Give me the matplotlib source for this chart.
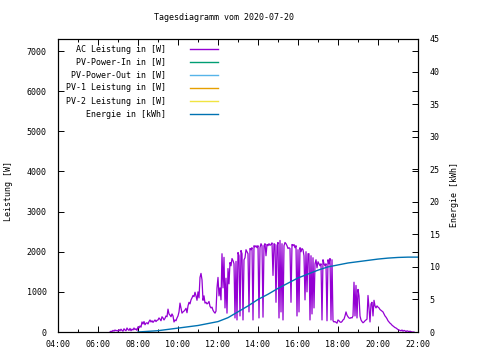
import matplotlib
matplotlib.use("Agg")
import matplotlib.pyplot as plt
from matplotlib.lines import Line2D
from matplotlib.ticker import MultipleLocator, FuncFormatter

# ---------------------------------------------------------------
# Daten: AC-Leistung [W] in 3-Minuten-Schritten, je Stunde ein Block
# ---------------------------------------------------------------
ac_0636 = [0, 20, 10, 40, 20, 50, 30, 40]
ac_07 = [20, 60, 30, 70, 40, 20, 80, 50, 30, 100, 60, 40, 90, 30, 70, 50, 100, 60, 80, 40]
ac_08 = [130, 100, 150, 120, 250, 200, 260, 180, 220, 230, 200, 260, 300, 250, 280, 240, 270, 300, 260, 290]
ac_09 = [300, 350, 320, 280, 380, 350, 300, 340, 400, 380, 570, 450, 420, 380, 450, 400, 250, 300, 280, 350]
ac_10 = [400, 500, 720, 600, 470, 500, 520, 550, 590, 480, 650, 740, 700, 800, 850, 910, 880, 990, 900, 790]
ac_11 = [1000, 850, 1360, 1460, 1300, 790, 900, 720, 740, 700, 720, 760, 640, 600, 620, 540, 500, 470, 520, 1100]
ac_12 = [1360, 900, 1100, 800, 1950, 1100, 1860, 600, 1340, 470, 1580, 1200, 1730, 1650, 1830, 1780, 1700, 350, 1760, 300]
ac_13 = [1980, 1900, 400, 2030, 1950, 300, 1800, 1850, 2050, 2000, 1950, 500, 2080, 2050, 2100, 300, 2150, 2120, 2150, 2100]
ac_14 = [2150, 350, 2100, 2200, 2150, 370, 2150, 2200, 1900, 2180, 2150, 2200, 2160, 2180, 2220, 1410, 2200, 2180, 740, 2150]
ac_15 = [2230, 350, 2280, 500, 2200, 300, 2150, 2230, 2200, 2150, 2080, 2100, 2080, 740, 2180, 2150, 2180, 2100, 2150, 400]
ac_16 = [2050, 500, 2100, 2000, 2080, 2050, 1900, 800, 2000, 1000, 1950, 1950, 300, 1900, 450, 1850, 600, 1700, 1800, 1600]
ac_17 = [1750, 1700, 1650, 1700, 300, 1800, 1700, 1650, 1700, 280, 1800, 1700, 1830, 300, 1800, 280, 250, 260, 240, 220]
ac_18 = [300, 280, 250, 240, 260, 300, 320, 400, 500, 420, 380, 350, 340, 360, 350, 400, 1240, 400, 1160, 350]
ac_19 = [1060, 900, 400, 300, 260, 230, 250, 280, 300, 320, 910, 600, 250, 700, 740, 400, 790, 650, 600, 650]
ac_20 = [620, 600, 560, 540, 520, 500, 450, 400, 370, 330, 280, 250, 220, 200, 170, 150, 130, 110, 100, 80]
ac_21 = [60, 50, 40, 30, 50, 20, 40, 30, 10, 30, 20, 10, 20, 10, 0, 0, 0]

ac_blocks = [(6.6, ac_0636), (7, ac_07), (8, ac_08), (9, ac_09), (10, ac_10),
             (11, ac_11), (12, ac_12), (13, ac_13), (14, ac_14), (15, ac_15),
             (16, ac_16), (17, ac_17), (18, ac_18), (19, ac_19), (20, ac_20),
             (21, ac_21)]

# Energie [kWh], kumuliert
energy_hours = [8, 8.5, 9, 9.5, 10, 10.5, 11, 11.5, 12, 12.5, 13, 13.5, 14, 14.5,
                15, 15.5, 16, 16.5, 17, 17.5, 18, 18.5, 19, 19.5, 20, 20.5, 21, 21.5, 22]
energy_kwh = [0, 0.1, 0.2, 0.4, 0.6, 0.8, 1.0, 1.3, 1.6, 2.2, 3.1, 4.0, 5.0, 5.8,
              6.7, 7.5, 8.3, 8.9, 9.5, 10.0, 10.3, 10.6, 10.8, 11.0, 11.2, 11.35, 11.45, 11.5, 11.5]

legend_labels = ["AC Leistung in [W]", "PV-Power-In in [W]", "PV-Power-Out in [W]",
                 "PV-1 Leistung in [W]", "PV-2 Leistung in [W]", "Energie in [kWh]"]
legend_colors = ["#9400D3", "#009E73", "#56B4E9", "#E69F00", "#F0E442", "#0072B2"]

ac_t, ac_w = [], []
for start, vals in ac_blocks:
    for i, v in enumerate(vals):
        ac_t.append(start + 0.05 * i)
        ac_w.append(v)

# ---------------------------------------------------------------
# Plot im gnuplot-Stil
# ---------------------------------------------------------------
plt.rcParams["font.family"] = ["DejaVu Sans Mono"]
plt.rcParams["font.size"] = 6

fig = plt.figure(figsize=(4.8, 3.6), dpi=100)
ax = fig.add_axes([58 / 480, 1 - 332 / 360, 360 / 480, 293 / 360])
ax2 = ax.twinx()

ax.plot(ac_t, ac_w, color=legend_colors[0], lw=0.9)
ax2.plot(energy_hours, energy_kwh, color=legend_colors[5], lw=1.0)

ax.set_xlim(4, 22)
ax.set_ylim(0, 7300)
ax2.set_ylim(0, 45)

ax.xaxis.set_major_locator(MultipleLocator(2))
ax.xaxis.set_minor_locator(MultipleLocator(1))
ax.xaxis.set_major_formatter(FuncFormatter(lambda v, p: "%02d:00" % int(round(v))))
ax.yaxis.set_major_locator(MultipleLocator(1000))
ax2.yaxis.set_major_locator(MultipleLocator(5))

ax.tick_params(axis="both", which="both", direction="in", top=True, right=True, width=0.7)
ax.tick_params(axis="x", which="major", length=4, pad=5.5)
ax.tick_params(axis="x", which="minor", length=2)
ax.tick_params(axis="y", which="major", length=4, pad=8)
ax2.tick_params(axis="y", direction="in", length=4, width=0.7, pad=8.5)

for a in (ax, ax2):
    for s in a.spines.values():
        s.set_linewidth(0.8)

ax.set_ylabel("Leistung [W]")
ax.yaxis.set_label_coords(-0.126, 0.48)
ax2.set_ylabel("Energie [kWh]")
ax2.yaxis.set_label_coords(1.088, 0.47)

fig.text(223.5 / 480, 1 - 18 / 360, "Tagesdiagramm vom 2020-07-20", ha="center", va="center")

# Legende wie bei gnuplot: Text rechtsbündig, Linienprobe rechts
for i, (lab, col) in enumerate(zip(legend_labels, legend_colors)):
    y = (332 - 49 - 13 * i) / 293
    ax.text(0.30, y, lab, transform=ax.transAxes, ha="right", va="center")
    ax.add_line(Line2D([0.367, 0.444], [y, y], transform=ax.transAxes, color=col, lw=1.0))

fig.savefig("out.png", dpi=100)
